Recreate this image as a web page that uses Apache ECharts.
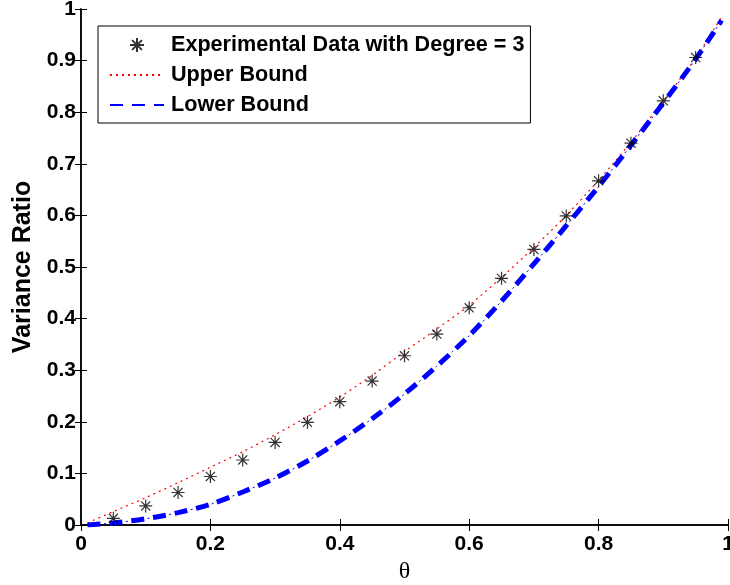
<!DOCTYPE html>
<html>
<head>
<meta charset="utf-8">
<style>
  html, body { margin: 0; padding: 0; background: #fff; }
  #chart { width: 730px; height: 585px; }
</style>
<script src="https://cdn.jsdelivr.net/npm/echarts@6/dist/echarts.min.js"></script>
</head>
<body>
<div id="chart"></div>
<script>
// θ values of the experimental points
const thetaPoints = [0.05, 0.10, 0.15, 0.20, 0.25, 0.30, 0.35, 0.40, 0.45, 0.50,
                     0.55, 0.60, 0.65, 0.70, 0.75, 0.80, 0.85, 0.90, 0.95];
// measured variance ratio (degree = 3)
const experimental = [0.013, 0.037, 0.063, 0.094, 0.126, 0.160, 0.199, 0.239, 0.279, 0.328,
                      0.370, 0.421, 0.478, 0.534, 0.599, 0.667, 0.740, 0.822, 0.906];

// θ grid for the bound curves
const thetaCurve = [0.01, 0.05, 0.10, 0.15, 0.20, 0.25, 0.30, 0.35, 0.40, 0.45, 0.50,
                    0.55, 0.60, 0.65, 0.70, 0.75, 0.80, 0.85, 0.90, 0.95, 0.99];
const upperBound = [0.004, 0.026, 0.053, 0.082, 0.112, 0.142, 0.175, 0.210, 0.248, 0.290, 0.336,
                    0.380, 0.426, 0.480, 0.538, 0.600, 0.668, 0.742, 0.822, 0.905, 0.985];
const lowerBound = [0.000, 0.004, 0.012, 0.024, 0.040, 0.064, 0.091, 0.124, 0.163, 0.206, 0.254,
                    0.308, 0.367, 0.434, 0.506, 0.580, 0.656, 0.736, 0.818, 0.903, 0.978];

const xTicks = [0, 0.2, 0.4, 0.6, 0.8, 1];
const yTicks = [0, 0.1, 0.2, 0.3, 0.4, 0.5, 0.6, 0.7, 0.8, 0.9, 1];

const seriesNames = ['Experimental Data with Degree = 3', 'Upper Bound', 'Lower Bound'];

const pair = (xs, ys) => xs.map((x, i) => [x, ys[i]]);
const tickText = v => String(+v.toFixed(1));

const asterisk = 'path://M10,0L10,20M0,10L20,10M3,3L17,17M3,17L17,3';
const labelFont = { fontFamily: 'Liberation Sans, Arial, sans-serif', fontWeight: 'bold', fontSize: 21, color: '#000' };

const chart = echarts.init(document.getElementById('chart'), null, { renderer: 'canvas' });

const axisCommon = {
  min: 0, max: 1,
  axisLine: { show: true, lineStyle: { color: '#000', width: 1.5 } },
  axisTick: { show: true, inside: true, length: 6, lineStyle: { color: '#000', width: 1 } },
  splitLine: { show: false }
};

chart.setOption({
  animation: false,
  backgroundColor: '#fff',
  grid: { left: 81, right: 2, top: 9, bottom: 60, containLabel: false, outerBoundsMode: 'none' },
  legend: {
    orient: 'vertical',
    left: 98, top: 26,
    data: [
      { name: seriesNames[0] },
      { name: seriesNames[1], itemStyle: { opacity: 0 } },
      { name: seriesNames[2], itemStyle: { opacity: 0 } }
    ],
    itemWidth: 54, itemHeight: 14, itemGap: 8,
    padding: [8, 6, 7, 11],
    borderColor: '#000', borderWidth: 1,
    backgroundColor: '#fff',
    textStyle: { ...labelFont, fontSize: 21.6, padding: [0, 0, 0, 2] }
  },
  xAxis: [
    {
      ...axisCommon, type: 'value', interval: 0.2, position: 'bottom',
      axisLabel: { ...labelFont, margin: 9, formatter: tickText },
      name: 'θ', nameLocation: 'middle', nameGap: 31,
      nameTextStyle: { fontFamily: 'Liberation Serif, Times New Roman, serif', fontSize: 24, color: '#000' }
    },
    {
      ...axisCommon, type: 'value', interval: 0.2, position: 'top',
      axisLabel: { show: false }
    }
  ],
  yAxis: [
    {
      ...axisCommon, type: 'value', interval: 0.1, position: 'left',
      axisLabel: { ...labelFont, margin: 5, formatter: tickText },
      name: 'Variance Ratio', nameLocation: 'middle', nameGap: 44,
      nameTextStyle: { fontFamily: 'Liberation Sans, Arial, sans-serif', fontWeight: 'bold', fontSize: 25, color: '#000' }
    },
    {
      ...axisCommon, type: 'value', interval: 0.1, position: 'right',
      axisLabel: { show: false }
    }
  ],
  series: [
    {
      name: 'Upper Bound', type: 'line', xAxisIndex: 0, yAxisIndex: 0,
      data: pair(thetaCurve, upperBound), smooth: 0.3,
      symbol: 'none', z: 2,
      lineStyle: { color: '#ff0000', width: 1.2, type: [2, 4] },
      itemStyle: { color: '#ff0000' }
    },
    {
      name: 'Lower Bound', type: 'line', xAxisIndex: 0, yAxisIndex: 0,
      data: pair(thetaCurve, lowerBound), smooth: 0.3,
      symbol: 'none', z: 3,
      lineStyle: { color: '#0000ff', width: 5, type: [13, 9], cap: 'butt' },
      itemStyle: { color: '#0000ff' }
    },
    {
      // thin dots between the thick dashes of the lower bound
      name: 'Lower Bound dots', type: 'line', xAxisIndex: 0, yAxisIndex: 0,
      data: pair(thetaCurve, lowerBound), smooth: 0.3,
      symbol: 'none', z: 3, silent: true,
      lineStyle: { color: '#0000ff', width: 1, type: [2, 20], dashOffset: 5.5 }
    },
    {
      name: 'Experimental Data with Degree = 3', type: 'scatter', xAxisIndex: 0, yAxisIndex: 0,
      data: pair(thetaPoints, experimental), z: 5,
      symbol: asterisk, symbolSize: 13,
      itemStyle: { color: 'rgba(0,0,0,0)', borderColor: '#000', borderWidth: 1.2 }
    }
  ]
});
</script>
</body>
</html>
